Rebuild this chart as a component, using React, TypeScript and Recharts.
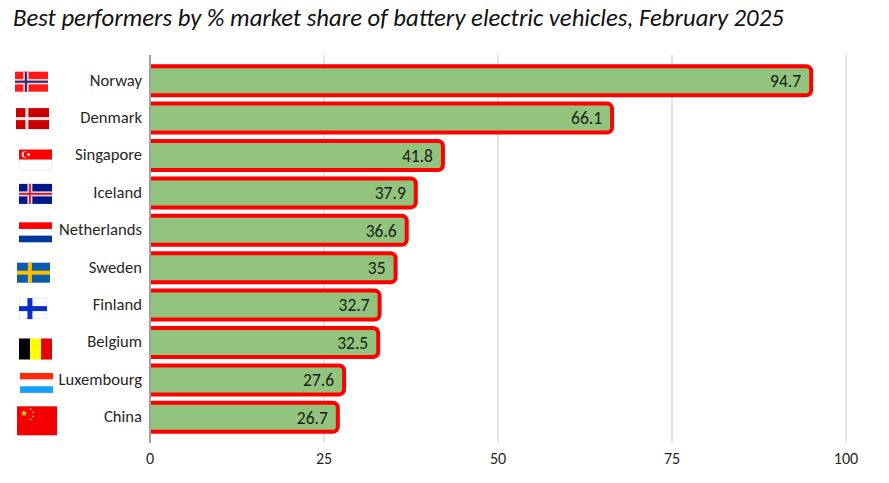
import React from "react";
import { BarChart, Bar, XAxis, YAxis, CartesianGrid, LabelList } from "recharts";

const countries = ["Norway", "Denmark", "Singapore", "Iceland", "Netherlands", "Sweden", "Finland", "Belgium", "Luxembourg", "China"];
const shares = [94.7, 66.1, 41.8, 37.9, 36.6, 35, 32.7, 32.5, 27.6, 26.7];
const xTicks = [0, 25, 50, 75, 100];
const titleText = "Best performers by % market share of battery electric vehicles, February 2025";

const rows = countries.map((country, i) => ({ country, share: shares[i] }));

const FONT = "Carlito, Lato, sans-serif";

type B = { x: number; y: number; w: number; h: number };

const NordicCross = ({ x, y, w, h, bg, outer, inner, cx = 0.33, t = 5.5, ti = 2 }: B & { bg: string; outer: string; inner?: string; cx?: number; t?: number; ti?: number }) => (
  <g>
    <rect x={x} y={y} width={w} height={h} fill={bg} />
    <rect x={x + w * cx - t / 2} y={y} width={t} height={h} fill={outer} />
    <rect x={x} y={y + h / 2 - t / 2} width={w} height={t} fill={outer} />
    {inner && <rect x={x + w * cx - ti / 2} y={y} width={ti} height={h} fill={inner} />}
    {inner && <rect x={x} y={y + h / 2 - ti / 2} width={w} height={ti} fill={inner} />}
  </g>
);

const Stripes = ({ x, y, w, h, colors }: B & { colors: string[] }) => (
  <g>
    {colors.map((c, i) => (
      <rect key={i} x={x} y={y + (h * i) / colors.length} width={w} height={h / colors.length} fill={c} />
    ))}
  </g>
);

const flags: Record<string, { box: [number, number, number, number]; draw: (b: B) => React.ReactNode }> = {
  Norway: { box: [15, -9, 33, 20], draw: (b) => <NordicCross {...b} bg="#ff1a1a" outer="#f7c4c4" inner="#1c2a78" /> },
  Denmark: { box: [16, -10, 33, 21], draw: (b) => <NordicCross {...b} bg="#c80000" outer="#f7e4e4" t={3} /> },
  Singapore: {
    box: [19, -6, 33, 21],
    draw: (b) => (
      <g>
        <Stripes {...b} colors={["#ff0000", "#ffffff"]} />
        <rect x={b.x + 0.5} y={b.y + b.h / 2} width={b.w - 1} height={b.h / 2 - 0.5} fill="none" stroke="#eeeeee" />
        <circle cx={b.x + 6} cy={b.y + 5} r={3.2} fill="#ffffff" />
        <circle cx={b.x + 7.5} cy={b.y + 5} r={3} fill="#ff0000" />
        <circle cx={b.x + 9.5} cy={b.y + 5} r={1.6} fill="#ffc9c9" />
      </g>
    ),
  },
  Iceland: {
    box: [19, -9, 33, 20],
    draw: (b) => <NordicCross {...b} bg="#02178c" outer="#f2d8dc" inner="#dc1e35" t={5} />,
  },
  Netherlands: { box: [19, -8, 33, 20], draw: (b) => <Stripes {...b} colors={["#ff0000", "#ffffff", "#00379b"]} /> },
  Sweden: { box: [17, -5, 33, 20], draw: (b) => <NordicCross {...b} bg="#0a5bab" outer="#fdc000" cx={0.39} t={4} /> },
  Finland: {
    box: [19, -7, 28, 21],
    draw: (b) => (
      <g>
        <rect x={b.x + 0.5} y={b.y + 0.5} width={b.w - 1} height={b.h - 1} fill="#ffffff" stroke="#eeeeee" />
        <NordicCross x={b.x} y={b.y} w={b.w} h={b.h} bg="transparent" outer="#0a2fc9" cx={0.39} t={5} />
      </g>
    ),
  },
  Belgium: {
    box: [19, -4, 33, 21],
    draw: ({ x, y, w, h }) => (
      <g>
        <rect x={x} y={y} width={w / 3} height={h} fill="#000000" />
        <rect x={x + w / 3} y={y} width={w / 3} height={h} fill="#ffff00" />
        <rect x={x + (2 * w) / 3} y={y} width={w / 3} height={h} fill="#e40000" />
      </g>
    ),
  },
  Luxembourg: { box: [20, -7, 33, 20], draw: (b) => <Stripes {...b} colors={["#ff2a0a", "#ffffff", "#18a0fb"]} /> },
  China: {
    box: [17, -11, 40, 29],
    draw: ({ x, y, w, h }) => (
      <g>
        <rect x={x} y={y} width={w} height={h} fill="#f40000" />
        <polygon
          points={[0, 1, 2, 3, 4]
            .flatMap((i) => {
              const a = -Math.PI / 2 + (i * 2 * Math.PI) / 5;
              const b2 = a + Math.PI / 5;
              return [
                `${x + 7 + 3.6 * Math.cos(a)},${y + 7 + 3.6 * Math.sin(a)}`,
                `${x + 7 + 1.4 * Math.cos(b2)},${y + 7 + 1.4 * Math.sin(b2)}`,
              ];
            })
            .join(" ")}
          fill="#ffdd00"
        />
        <circle cx={x + 13.5} cy={y + 3} r={0.9} fill="#ffdd00" />
        <circle cx={x + 16} cy={y + 6} r={0.9} fill="#ffdd00" />
        <circle cx={x + 16} cy={y + 10} r={0.9} fill="#ffdd00" />
        <circle cx={x + 13.5} cy={y + 13} r={0.9} fill="#ffdd00" />
      </g>
    ),
  },
};

const CountryTick = ({ x, y, payload }: any) => {
  const flag = flags[payload.value];
  const [fx, dy, w, h] = flag.box;
  return (
    <g>
      {flag.draw({ x: fx, y: y + dy, w, h })}
      <text x={x} y={y} dy="0.3em" textAnchor="end" fontFamily={FONT} fontSize={16.6} fill="#262626">
        {payload.value}
      </text>
    </g>
  );
};

const OpenBar = ({ x, y, width, height }: any) => {
  const left = x + 1;
  const right = x + width + 2;
  const bottom = y + height;
  const r = 5;
  const d = `M${left},${y} H${right - r} A${r},${r} 0 0 1 ${right},${y + r} V${bottom - r} A${r},${r} 0 0 1 ${right - r},${bottom} H${left}`;
  return <path d={d} fill="#93c47d" stroke="#ff0000" strokeWidth={4} />;
};

export default function App() {
  return (
    <div style={{ position: "absolute", left: 0, top: 0, width: 889, height: 483, background: "#ffffff" }}>
      <div
        style={{
          position: "absolute",
          left: 13,
          top: 2,
          fontFamily: FONT,
          fontStyle: "italic",
          fontSize: 24.7,
          color: "#111111",
          whiteSpace: "nowrap",
        }}
      >
        {titleText}
      </div>
      <BarChart
        width={889}
        height={483}
        data={rows}
        layout="vertical"
        barCategoryGap={4.2}
        margin={{ top: 55, right: 43, bottom: 0, left: 0 }}
      >
        <CartesianGrid horizontal={false} stroke="#dcdcdc" strokeWidth={1.5} />
        <XAxis
          type="number"
          domain={[0, 100]}
          ticks={xTicks}
          axisLine={false}
          tickLine={false}
          height={40}
          tickMargin={4}
          tick={{ fontFamily: FONT, fontSize: 16, fill: "#262626" }}
        />
        <YAxis
          type="category"
          dataKey="country"
          width={150}
          padding={{ top: 7, bottom: 7 }}
          axisLine={{ stroke: "#a0a0a0", strokeWidth: 2 }}
          tickLine={false}
          tickMargin={2}
          interval={0}
          tick={<CountryTick />}
        />
        <Bar dataKey="share" shape={<OpenBar />} isAnimationActive={false}>
          <LabelList
            dataKey="share"
            position="insideRight"
            offset={8}
            fontFamily={FONT}
            fontSize={17.5}
            fill="#1a1a1a"
          />
        </Bar>
      </BarChart>
    </div>
  );
}
